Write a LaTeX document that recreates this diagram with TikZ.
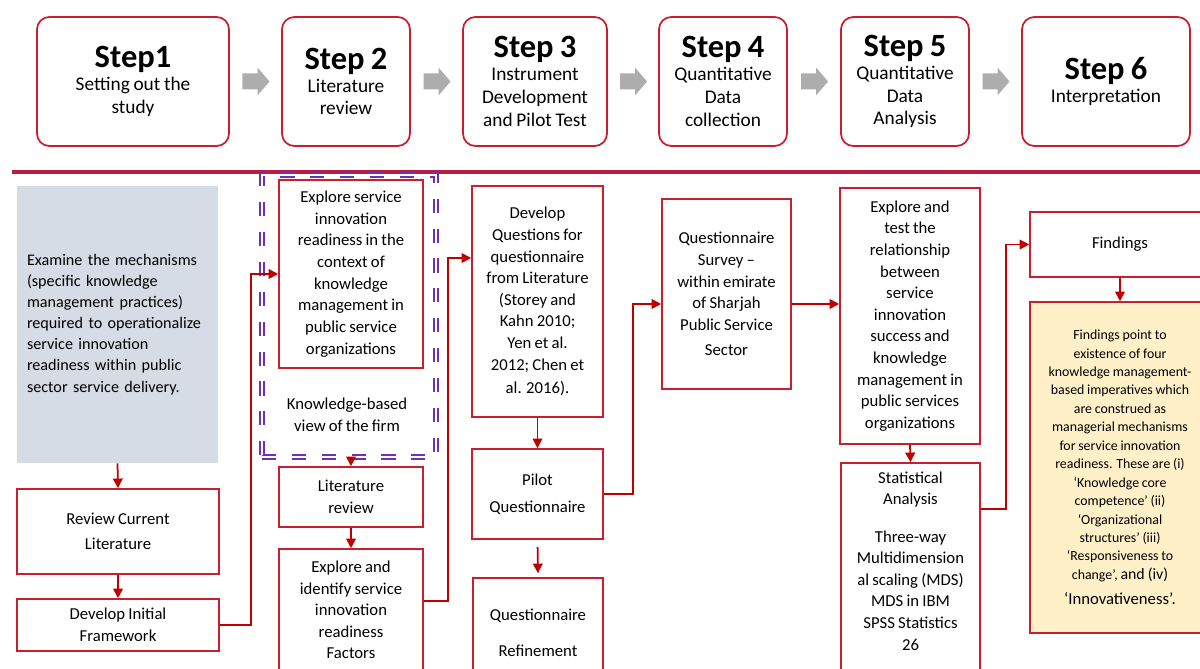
\documentclass[tikz,border=0pt]{standalone}
\usepackage{fontspec}
\setmainfont{Carlito}[WordSpace=0.85]
\usepackage{xcolor}
\usepackage{tikz}
\usetikzlibrary{
    positioning,
    calc,
    arrows.meta,
    backgrounds
}
\definecolor{boxred}{RGB}{200,30,45}
\definecolor{flowred}{RGB}{192,0,0}
\definecolor{rulered}{RGB}{185,30,65}
\definecolor{stepgray}{RGB}{173,173,173}
\definecolor{examfill}{RGB}{214,220,229}
\definecolor{findfill}{RGB}{255,240,200}
\definecolor{kbvpurple}{RGB}{112,48,180}
\newcommand{\steptitle}[1]{{\fontsize{18.5}{20}\selectfont\bfseries #1}}
\tikzset{
    stepbox/.style={
        rectangle, draw=boxred, line width=1pt,
        rounded corners=7pt, minimum height=2.58cm,
        align=center,
        font=\fontsize{11}{13}\selectfont
    },
    flowbox/.style={
        rectangle, draw=boxred, line width=0.9pt,
        align=center, inner sep=0pt,
        font=\fontsize{9.5}{12.3}\selectfont
    },
    exambox/.style={
        rectangle, fill=examfill, align=left,
        text width=3.62cm, inner xsep=0.2cm,
        font=\fontsize{9.2}{12}\selectfont
    },
    findbox/.style={
        flowbox, fill=findfill,
        font=\fontsize{7.9}{10.5}\selectfont
    },
    kbvframe/.style={
        rectangle, draw=kbvpurple, line width=0.9pt,
        double=white, double distance=1.4pt,
        dash pattern=on 8pt off 9pt
    },
    plaintext/.style={
        align=center, font=\fontsize{9.5}{12.3}\selectfont
    },
    flowarrow/.style={
        -{Triangle[length=5.5pt,width=5.5pt]}, draw=flowred, line width=1pt
    }
}

\begin{document}
\begin{tikzpicture}[x=0.02cm, y=-0.02cm]
	\useasboundingbox (0,0) rectangle (1200,669);
	
	% STEPS
	\node (s1) [stepbox, minimum width=3.84cm] at (133,81.5) {\steptitle{Step1}\\Setting out the\\study};
	\node (s2) [stepbox, minimum width=2.56cm] at (346,81.5) {\steptitle{Step 2}\\Literature\\review};
	\node (s3) [stepbox, minimum width=2.88cm] at (535,81.5) {\steptitle{Step 3}\\Instrument\\Development\\and Pilot Test};
	\node (s4) [stepbox, minimum width=2.56cm] at (723,81.5) {\steptitle{Step 4}\\Quantitative\\Data\\collection};
	\node (s5) [stepbox, minimum width=2.56cm] at (905,81.5) {\steptitle{Step 5}\\Quantitative\\Data\\Analysis};
	\node (s6) [stepbox, minimum width=3.36cm] at (1106,81.5) {\steptitle{Step 6}\\Interpretation};
	
	% GREY ARROWS
	\foreach \a/\b in {s1/s2, s2/s3, s3/s4, s4/s5, s5/s6}
		\fill[stepgray] ($(\a.east)!0.5!(\b.west)$) ++(-13,-8) -- ++(15,0) -- ++(0,-6)
			-- ++(12,14) -- ++(-12,14) -- ++(0,-6) -- ++(-15,0) -- cycle;
	
	% RULE
	\draw[rulered, line width=2.3pt] (12,172) -- (1200,172);
	
	% NODES
	\node (exam) [exambox, minimum height=5.54cm] at (117.5,324.5) {Examine the mechanisms\\(specific knowledge\\management practices)\\required to operationalize\\service innovation\\readiness within public\\sector service delivery.};
	\node (review) [flowbox, minimum width=4.04cm, minimum height=1.70cm] at (118,531.5) {Review Current\\[2pt]Literature};
	\node (initfw) [flowbox, minimum width=4.04cm, minimum height=1.04cm] at (118,625) {Develop Initial\\Framework};
	
	\node (kbv) [kbvframe, minimum width=3.48cm, minimum height=5.64cm] at (349,316) {};
	\node (explore) [flowbox, minimum width=2.88cm, minimum height=3.76cm] at (351,274) {Explore service\\innovation\\readiness in the\\context of\\knowledge\\management in\\public service\\organizations};
	\node (kbvtxt) [plaintext] at (347,415) {Knowledge-based\\view of the firm};
	\node (litrev) [flowbox, minimum width=2.88cm, minimum height=1.20cm] at (351,497) {Literature\\review};
	\node (identify) [flowbox, minimum width=2.88cm, minimum height=2.44cm] at (351,610) {Explore and\\identify service\\innovation\\readiness\\Factors};
	
	\node (devq) [flowbox, minimum width=2.62cm, minimum height=4.62cm] at (537.5,301.5) {Develop\\Questions for\\questionnaire\\from Literature\\(Storey and\\Kahn 2010;\\Yen et al.\\2012; Chen et\\[1pt]al. 2016).};
	\node (pilot) [flowbox, minimum width=2.62cm, minimum height=1.80cm] at (537.5,494) {Pilot\\[3pt]Questionnaire};
	\node (refine) [flowbox, minimum width=2.60cm, minimum height=2.20cm] at (538,633) {Questionnaire\\[8pt]Refinement};
	
	\node (survey) [flowbox, minimum width=2.58cm, minimum height=3.80cm] at (726.5,294) {Questionnaire\\Survey --\\within emirate\\of Sharjah\\Public Service\\[2pt]Sector};
	
	\node (testrel) [flowbox, minimum width=2.80cm, minimum height=5.12cm] at (910,316) {Explore and\\test the\\relationship\\between\\service\\innovation\\success and\\knowledge\\management in\\public services\\organizations};
	\node (stat) [flowbox, minimum width=2.78cm, minimum height=4.54cm] at (910.5,576.5) {};
	\node (stattxt) [plaintext, below=0.06cm of stat.north] {Statistical\\Analysis\\[9pt]Three-way\\Multidimension\\al scaling (MDS)\\MDS in IBM\\SPSS Statistics\\26};
	
	\node (findings) [flowbox, minimum width=3.60cm, minimum height=1.30cm] at (1120,244.5) {Findings};
	\node (detail) [findbox, minimum width=3.60cm, minimum height=6.62cm] at (1120,467.5) {Findings point to\\existence of four\\knowledge management-\\based imperatives which\\are construed as\\managerial mechanisms\\for service innovation\\readiness. These are (i)\\‘Knowledge core\\competence’ (ii)\\‘Organizational\\structures’ (iii)\\‘Responsiveness to\\change’, {\fontsize{9}{10.5}\selectfont and (iv)}\\[4pt]{\fontsize{9.5}{11}\selectfont ‘Innovativeness’.}};
	
	% COORDINATES
	\coordinate (idout) at ($(identify.east)+(0,-9)$);
	\coordinate (dqin) at ($(devq.west)+(0,-43.5)$);
	\coordinate (svin) at ($(survey.west)+(0,10)$);
	\coordinate (svout) at ($(survey.east)+(0,10)$);
	\coordinate (stout) at ($(stat.north east)+(0,47)$);
	
	% ARROWS
	\draw[flowarrow] (exam.south) -- (review.north);
	\draw[flowarrow] (review.south) -- (initfw.north);
	\draw[flowarrow] (initfw.east) -- ++(31,0) |- (explore.west);
	\draw[flowarrow] (litrev.north |- kbv.south) -- (litrev.north);
	\draw[flowarrow] (litrev.south) -- (identify.north);
	\draw[flowarrow] (idout) -- ++(24,0) |- (dqin);
	\draw[flowarrow] (devq.south) -- (pilot.north);
	\draw[flowarrow, shorten <=0.14cm, shorten >=0.08cm] (pilot.south) -- (refine.north);
	\draw[flowarrow] (pilot.east) -- ++(29,0) |- (svin);
	\draw[flowarrow] (svout) -- (svout -| testrel.west);
	\draw[flowarrow] (testrel.south) -- (stat.north);
	\draw[flowarrow] (stout) -- ++(25,0) |- (findings.west);
	\draw[flowarrow] (findings.south) -- (detail.north);
	
\end{tikzpicture}
\end{document}
